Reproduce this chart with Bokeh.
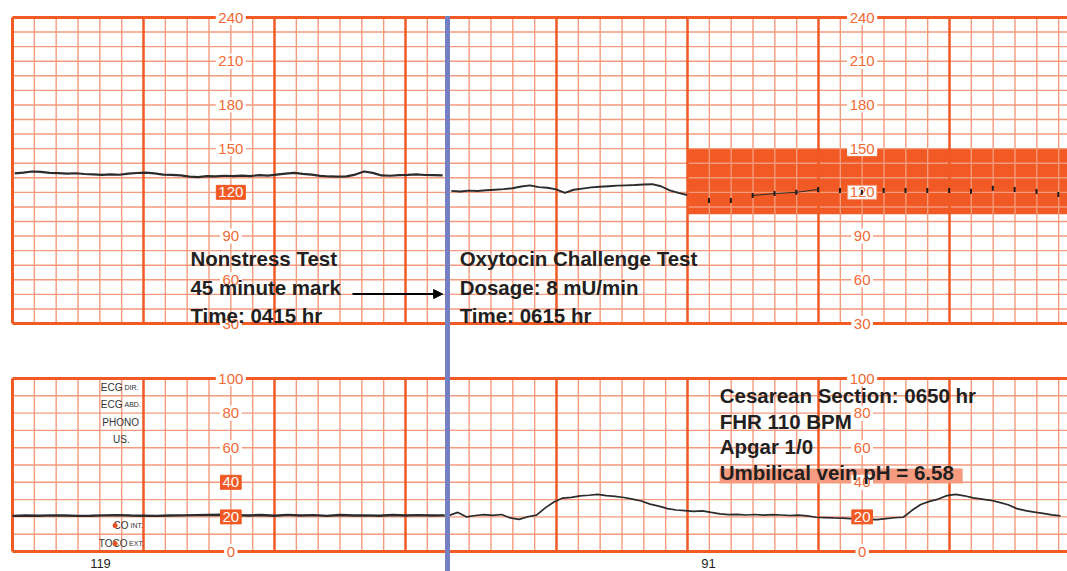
import numpy as np
from bokeh.plotting import figure
from bokeh.models import Range1d, Arrow, NormalHead, ColumnDataSource
from bokeh.core.properties import value
from bokeh.embed import file_html
from bokeh.resources import INLINE

# ---------------- data (read from the strip) ----------------
# Fetal heart rate, nonstress test strip (seconds along paper, bpm)
fhr_nst_t = list(range(1, 198, 4))
fhr_nst_bpm = [133.0, 133.6, 134.3, 134.0, 133.4, 133.2, 132.8, 133.1, 132.6, 132.3,
               132.0, 132.4, 132.1, 132.8, 133.3, 133.6, 133.0, 132.2, 132.0, 131.6,
               130.8, 130.4, 131.2, 131.0, 131.4, 131.1, 131.5, 131.2, 131.8, 131.5,
               132.2, 132.8, 133.4, 132.7, 132.2, 131.3, 130.9, 130.8, 131.0, 132.2,
               134.3, 133.4, 131.6, 131.4, 131.8, 132.0, 132.3, 131.9, 131.8, 131.7]
# Fetal heart rate, oxytocin challenge strip
fhr_oct_t = list(range(201, 310, 4))
fhr_oct_bpm = [121.0, 120.6, 121.2, 120.9, 121.4, 121.8, 122.2, 122.8, 124.0, 124.8,
               123.6, 123.2, 122.0, 119.6, 121.8, 122.6, 123.4, 123.8, 124.2, 124.6,
               124.8, 125.0, 125.4, 125.6, 124.2, 121.4, 119.6, 118.2]
# Sparse FHR marks inside the alarm band
fhr_late_t = [319, 329, 339, 349, 359, 369, 379, 389, 399, 409, 419, 429, 439, 449, 459, 469, 479]
fhr_late_bpm = [114.4, 114.4, 117.8, 119.2, 120.0, 122.0, 121.3, 120.0, 121.3, 121.3,
                121.3, 121.3, 120.8, 122.8, 122.0, 120.6, 118.5]
# Uterine activity (mmHg)
uc_nst_t = list(range(0, 199, 6))
uc_nst_mmhg = [20.6, 20.8, 20.7, 20.9, 20.8, 20.6, 20.7, 20.9, 21.0, 20.8, 20.7, 20.6,
               20.8, 20.9, 21.0, 21.1, 21.2, 21.0, 20.8, 21.1, 20.7, 21.2, 20.8, 21.0,
               20.6, 21.1, 20.8, 20.9, 20.7, 21.1, 20.8, 21.0, 20.8, 20.9]
uc_oct_t = list(range(200, 481, 4))
uc_oct_mmhg = [20.9, 22.6, 20.0, 20.8, 21.3, 20.9, 21.4, 19.4, 18.6, 20.1, 21.0,
               25.2, 28.6, 30.9, 31.3, 32.2, 32.5, 33.0, 32.3, 31.9, 31.2,
               30.3, 29.2, 27.4, 26.2, 24.8, 24.0, 23.6, 23.2, 23.5, 22.6,
               21.8, 21.3, 21.5, 21.1, 21.4, 21.0, 21.3, 21.1, 20.8, 21.0,
               20.6, 19.8, 19.6, 19.4, 19.3, 19.0, 18.8, 18.6, 18.4, 19.0,
               19.5, 19.8, 23.8, 27.2, 29.0, 30.3, 32.3, 33.0, 32.2, 31.0,
               30.3, 29.6, 28.4, 27.0, 24.8, 23.6, 22.8, 22.0, 21.2, 20.6]

fhr_labels = [240, 210, 180, 150, 120, 90, 60, 30]
uc_labels = [100, 80, 60, 40, 20, 0]
nst_notes = ["Nonstress Test", "45 minute mark", "Time: 0415 hr"]
oct_notes = ["Oxytocin Challenge Test", "Dosage: 8 mU/min", "Time: 0615 hr"]
cs_notes = ["Cesarean Section: 0650 hr", "FHR 110 BPM", "Apgar 1/0", "Umbilical vein pH = 6.58"]
band_bpm = (105, 150)

# ---------------- geometry ----------------
W, H = 1067, 571
PX_PER_S = 131 / 60.0
PX_PER_BPM = 306 / 210.0
PX_PER_MM = 173 / 100.0
x_start = -12 / PX_PER_S
x_end = x_start + W / PX_PER_S
bpm_top = 240 + 17 / PX_PER_BPM
bpm_bot = bpm_top - H / PX_PER_BPM
uc_top = 100 + 378 / PX_PER_MM
uc_bot = uc_top - H / PX_PER_MM

CUT_S = (447 - 12) / PX_PER_S
R_OFF = (556 - 12) / PX_PER_S - 240
LAB_L = 100.0
LAB_R = R_OFF + 380

MAJ = "#F15A24"
MIN = "#F59A7C"
LBL = "#F26A35"
INK = "#231F20"

p = figure(width=W, height=H, output_backend="svg", toolbar_location=None,
           x_range=Range1d(x_start, x_end), y_range=Range1d(bpm_bot, bpm_top),
           min_border=0, min_border_left=0, min_border_right=0,
           min_border_top=0, min_border_bottom=0)
p.extra_y_ranges = {"uc": Range1d(uc_bot, uc_top)}
p.xaxis.visible = False
p.yaxis.visible = False
p.grid.visible = False
p.outline_line_color = None
p.background_fill_color = "white"
p.border_fill_color = "white"

# alarm band (under paper grid)
p.quad(left=[R_OFF + 300], right=[x_end + 5], bottom=[band_bpm[0]], top=[band_bpm[1]],
       fill_color=MAJ, line_color=None)

# paper grid positions (10 s small squares, 1 min large squares)
left_k = np.arange(1, 20)
left_t = 10.0 * left_k
right_k = np.arange(19, 48)
right_t = R_OFF + 10.0 * right_k
min_t = np.concatenate([left_t[left_k % 6 != 0], right_t[right_k % 6 != 0]])
maj_t = np.concatenate([left_t[left_k % 6 == 0], right_t[right_k % 6 == 0]])

panels = [(None, 30, 240), ("uc", 0, 100)]
for rng, lo, hi in panels:
    kw = {} if rng is None else {"y_range_name": rng}
    hlines = np.arange(lo + 10, hi, 10)
    p.segment(x0=np.zeros(len(hlines)), x1=np.full(len(hlines), x_end + 5), y0=hlines, y1=hlines,
              line_color=MIN, line_width=1.4, **kw)
    p.segment(x0=min_t, x1=min_t, y0=np.full(len(min_t), lo), y1=np.full(len(min_t), hi),
              line_color=MIN, line_width=1.4, **kw)
    p.segment(x0=maj_t, x1=maj_t, y0=np.full(len(maj_t), lo), y1=np.full(len(maj_t), hi),
              line_color=MAJ, line_width=2.5, **kw)
    p.segment(x0=[0, 0], x1=[x_end + 5, x_end + 5], y0=[lo, hi], y1=[lo, hi],
              line_color=MAJ, line_width=3, **kw)
    p.segment(x0=[0], x1=[0], y0=[lo], y1=[hi], line_color=MAJ, line_width=3, **kw)

# traces
p.line(fhr_nst_t, fhr_nst_bpm, line_color="#2B2B2B", line_width=2.2)
p.line(fhr_oct_t, fhr_oct_bpm, line_color="#2B2B2B", line_width=1.9)
p.line(fhr_late_t[2:6], fhr_late_bpm[2:6], line_color="#2B2B2B", line_width=1)
p.scatter(fhr_late_t, fhr_late_bpm, marker="dash", angle=np.pi / 2, size=5,
          line_color="#1A1A1A", line_width=2)
p.line(uc_nst_t, uc_nst_mmhg, line_color="#2B2B2B", line_width=2.4, y_range_name="uc")
p.line(uc_oct_t, uc_oct_mmhg, line_color="#2B2B2B", line_width=1.7, y_range_name="uc")

# highlight behind pH line
p.quad(left=[323.9], right=[435.2], bottom=[39.3], top=[48.0], y_range_name="uc",
       fill_color="#F59C80", line_color=None)

# scale labels printed on the paper
def label_source(vals, xpos, boxed, ring=()):
    xs, ys, txt, tc, bg, bc = [], [], [], [], [], []
    for v in vals:
        xs.append(xpos); ys.append(v); txt.append(str(v))
        if v in boxed:
            tc.append("white"); bg.append(MAJ); bc.append(MAJ)
        else:
            tc.append(LBL); bg.append("white"); bc.append(MIN if v in ring else "white")
    return ColumnDataSource(dict(x=xs, y=ys, text=txt, tc=tc, bg=bg, bc=bc))

lab_kw = dict(text_color="tc", background_fill_color="bg", border_line_color="bc",
              text_align="center", text_baseline="middle", text_font=value("Liberation Sans"),
              text_font_size="15px", padding=2)
p.text(source=label_source(fhr_labels, LAB_L, {120}), **lab_kw)
p.text(source=label_source(fhr_labels, LAB_R, set(), ring={120}), **lab_kw)
p.text(source=label_source(uc_labels, LAB_L, {40, 20}), y_range_name="uc", **lab_kw)
p.text(source=label_source(uc_labels, LAB_R, {20}), y_range_name="uc", **lab_kw)

# band mark over the right 120 label
p.scatter(fhr_late_t[7:8], fhr_late_bpm[7:8], marker="dash", angle=np.pi / 2, size=5,
          line_color="#1A1A1A", line_width=2)

# channel labels
ch_kw = dict(text_color="#333333", text_font=value("Liberation Sans"), text_baseline="middle",
             y_range_name="uc")
p.text(x=[50.4, 50.4, 53.1, 52.7], y=[94.8, 85.0, 15.0, 4.6],
       text=["ECG", "ECG", "CO", "TOCO"], text_align="right", text_font_size="10px", **ch_kw)
p.text(x=[51.3, 51.3, 54.1, 53.4], y=[94.6, 84.8, 14.8, 4.4],
       text=["DIR.", "ABD.", "INT.", "EXT."], text_align="left", text_font_size="7px", **ch_kw)
p.text(x=[49.5, 49.9], y=[74.6, 64.7], text=["PHONO", "US."], text_align="center",
       text_font_size="10px", **ch_kw)
p.scatter(x=[47.0, 47.0], y=[15.0, 4.6], size=5, fill_color="#E8542A", line_color=None,
          y_range_name="uc")

# page numbers
p.text(x=[40.3, 318.8], y=[-7.0, -7.0], text=["119", "91"], y_range_name="uc",
       text_align="center", text_baseline="middle", text_color=INK,
       text_font=value("Liberation Sans"), text_font_size="13px")

# divider between the two strips
p.segment(x0=[CUT_S], x1=[CUT_S], y0=[241.0], y1=[bpm_bot], line_color="#7480C2", line_width=5)

# annotations
note_kw = dict(text_color=INK, text_font=value("Liberation Sans"), text_font_style="bold",
               text_font_size="20.5px", text_align="left", text_baseline="middle")
p.text(x=[81.5] * 3, y=[74.6, 55.0, 35.5], text=nst_notes, **note_kw)
p.text(x=[204.8] * 3, y=[74.6, 55.0, 35.5], text=oct_notes, **note_kw)
p.text(x=[323.9] * 4, y=[90.2, 75.4, 60.7, 45.7], text=cs_notes, y_range_name="uc", **note_kw)

p.add_layout(Arrow(end=NormalHead(size=9, fill_color="black", line_color="black"),
                   x_start=155.7, y_start=50.2, x_end=197.0, y_end=50.2,
                   line_color="black", line_width=2))

open("out.html", "w").write(file_html(p, INLINE))
